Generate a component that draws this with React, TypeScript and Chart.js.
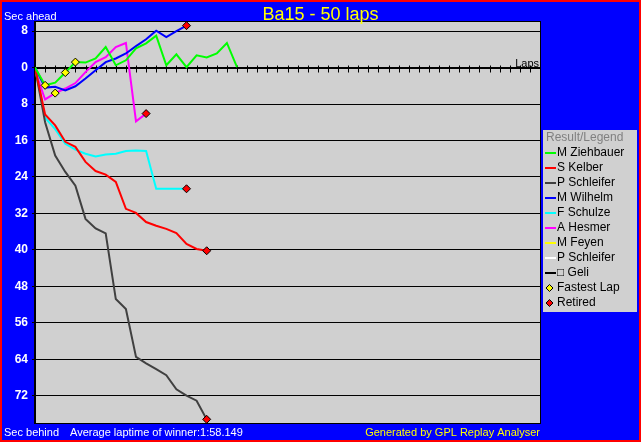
import { useEffect, useRef } from "react";
import { Chart, registerables } from "chart.js";

Chart.register(...registerables);

const FONT = "'Liberation Sans', Arial, sans-serif";

const TITLE = "Ba15 - 50 laps";
const LAP_COUNT = 50;
const Y_MIN = -78;
const Y_MAX = 10;
const yTickValues = [8, 0, -8, -16, -24, -32, -40, -48, -56, -64, -72];

const drivers = [
  "M Ziehbauer",
  "S Kelber",
  "P Schleifer",
  "M Wilhelm",
  "F Schulze",
  "A Hesmer",
  "M Feyen",
  "P Schleifer",
  "\u25A1 Geli",
];
const driverColors = [
  "#00ff00",
  "#ff0000",
  "#404040",
  "#0000ff",
  "#00ffff",
  "#ff00ff",
  "#ffff00",
  "#ffffff",
  "#000000",
];

// seconds ahead (+) / behind (-) per lap, index = lap
const ziehbauer = [0, -3.9, -3.3, -1.1, 1.2, 1.1, 2.0, 4.5, 0.5, 1.6, 4.2, 5.3, 7.0, 0.5, 2.9, 0.1, 2.7, 2.2, 3.1, 5.4, 0.1];
const kelber = [0, -10.3, -12.7, -16.3, -17.4, -20.7, -22.7, -23.5, -25.1, -31.0, -31.9, -33.9, -34.7, -35.4, -36.3, -38.7, -39.8, -40.2];
const schleifer = [0, -12.0, -19.3, -22.9, -25.9, -33.2, -35.3, -36.4, -50.8, -53.0, -63.5, -64.9, -66.2, -67.5, -70.6, -72.0, -73.1, -77.2];
const wilhelm = [0, -4.4, -4.2, -5.0, -4.1, -2.4, -0.6, 1.2, 2.0, 3.1, 4.7, 6.2, 8.1, 6.7, 8.0, 9.2];
const schulze = [0, -11.0, -13.5, -16.7, -18.0, -18.9, -19.5, -19.1, -18.9, -18.3, -18.2, -18.3, -26.6, -26.6, -26.6, -26.6];
const hesmer = [-0.6, -7.0, -5.6, -4.6, -3.4, -1.0, 1.2, 2.3, 4.5, 5.4, -11.8, -10.1];
const feyen: number[] = [];
const schleifer2: number[] = [];
const geli: number[] = [];

const series = [ziehbauer, kelber, schleifer, wilhelm, schulze, hesmer, feyen, schleifer2, geli];
const retired = [false, true, true, true, true, true, false, false, false];
// [driver index, lap]
const fastestLaps = [
  [0, 1],
  [0, 3],
  [0, 4],
  [5, 2],
];

const bottomLeft = "Sec behind";
const avgText = "Average laptime of winner:1:58.149";
const generatedText = "Generated by GPL Replay Analyser";

const decorPlugin = {
  id: "decor",
  beforeDraw(chart: any) {
    const { ctx, width, height, chartArea } = chart;
    ctx.save();
    ctx.fillStyle = "#ff0000";
    ctx.fillRect(0, 0, width, height);
    ctx.fillStyle = "#0000ff";
    ctx.fillRect(2, 2, width - 4, height - 4);
    ctx.fillStyle = "#d0d0d0";
    ctx.fillRect(chartArea.left, chartArea.top, chartArea.right - chartArea.left, chartArea.bottom - chartArea.top);
    ctx.restore();
  },
  beforeDatasetsDraw(chart: any) {
    const { ctx, chartArea, scales } = chart;
    const xs = scales.x;
    const ys = scales.y;
    ctx.save();
    // frame
    ctx.strokeStyle = "#000";
    ctx.lineWidth = 1;
    ctx.strokeRect(chartArea.left - 0.5, chartArea.top - 0.5, chartArea.right - chartArea.left + 1, chartArea.bottom - chartArea.top + 1);
    // lap axis at 0
    const y0 = Math.round(ys.getPixelForValue(0)) + 0.5;
    ctx.beginPath();
    ctx.moveTo(chartArea.left, y0);
    ctx.lineTo(chartArea.right, y0);
    for (let lap = 1; lap < LAP_COUNT; lap++) {
      const x = Math.round(xs.getPixelForValue(lap)) + 0.5;
      ctx.moveTo(x, y0 - 3);
      ctx.lineTo(x, y0 + 4);
    }
    ctx.stroke();
    // Laps label
    ctx.fillStyle = "#000";
    ctx.font = `11px ${FONT}`;
    ctx.textAlign = "right";
    ctx.textBaseline = "alphabetic";
    ctx.fillText("Laps", chartArea.right - 1, y0 - 2);
    ctx.restore();
  },
  afterDraw(chart: any) {
    const { ctx, width } = chart;
    ctx.save();
    ctx.textBaseline = "alphabetic";
    // title
    ctx.fillStyle = "#ffff00";
    ctx.font = `18px ${FONT}`;
    ctx.textAlign = "center";
    ctx.fillText(TITLE, width / 2, 20);
    // small texts
    ctx.font = `11px ${FONT}`;
    ctx.textAlign = "left";
    ctx.fillStyle = "#ffffff";
    ctx.fillText("Sec ahead", 4, 20);
    ctx.fillText(bottomLeft, 4, 436);
    ctx.fillText(avgText, 70, 436);
    ctx.fillStyle = "#ffff00";
    ctx.textAlign = "right";
    ctx.fillText(generatedText, 540, 436);

    // legend
    const lx = 543;
    const ly = 130;
    ctx.fillStyle = "#d0d0d0";
    ctx.fillRect(lx, ly, 94, 182);
    ctx.textAlign = "left";
    ctx.textBaseline = "middle";
    ctx.font = `12px ${FONT}`;
    ctx.fillStyle = "#808080";
    ctx.fillText("Result/Legend", 546, 137.5);
    let rowY = 153;
    drivers.forEach((name, i) => {
      ctx.strokeStyle = driverColors[i];
      ctx.lineWidth = 2;
      ctx.beginPath();
      ctx.moveTo(545, rowY);
      ctx.lineTo(556, rowY);
      ctx.stroke();
      ctx.fillStyle = "#000";
      ctx.fillText(name, 557, rowY);
      rowY += 15;
    });
    const marker = (cx: number, cy: number, fill: string) => {
      ctx.beginPath();
      ctx.moveTo(cx, cy - 3.5);
      ctx.lineTo(cx + 3.5, cy);
      ctx.lineTo(cx, cy + 3.5);
      ctx.lineTo(cx - 3.5, cy);
      ctx.closePath();
      ctx.fillStyle = fill;
      ctx.fill();
      ctx.strokeStyle = "#000";
      ctx.lineWidth = 1;
      ctx.stroke();
    };
    marker(549.5, rowY, "#ffff00");
    ctx.fillStyle = "#000";
    ctx.fillText("Fastest Lap", 557, rowY);
    rowY += 15;
    marker(549.5, rowY, "#ff0000");
    ctx.fillStyle = "#000";
    ctx.fillText("Retired", 557, rowY);
    ctx.restore();
  },
};

export default function App() {
  const ref = useRef<HTMLCanvasElement | null>(null);

  useEffect(() => {
    if (!ref.current) return;
    const lineSets = series.map((vals, i) => ({
      label: drivers[i],
      data: vals.map((y, x) => ({ x, y })),
      borderColor: driverColors[i],
      backgroundColor: driverColors[i],
      borderWidth: 2,
      pointRadius: 0,
      tension: 0,
      fill: false,
      order: 1,
    }));
    const fastestPts = fastestLaps.map(([d, lap]) => ({ x: lap, y: series[d][lap] }));
    const retiredPts = series
      .map((vals, i) => (retired[i] && vals.length ? { x: vals.length - 1, y: vals[vals.length - 1] } : null))
      .filter(Boolean);
    const markerSet = (label: string, pts: any[], color: string) => ({
      label,
      data: pts,
      showLine: false,
      pointStyle: "rectRot",
      pointRadius: 4,
      pointBackgroundColor: color,
      pointBorderColor: "#000",
      pointBorderWidth: 1,
      borderColor: "#000",
      backgroundColor: color,
      order: -1,
    });
    const chart = new Chart(ref.current, {
      type: "line",
      data: {
        datasets: [
          ...lineSets,
          markerSet("Fastest Lap", fastestPts, "#ffff00"),
          markerSet("Retired", retiredPts as any[], "#ff0000"),
        ] as any,
      },
      plugins: [decorPlugin],
      options: {
        responsive: false,
        animation: false,
        devicePixelRatio: 1,
        layout: { padding: { left: 0, right: 101, top: 22, bottom: 19 } },
        plugins: {
          legend: { display: false },
          tooltip: { enabled: false },
          title: { display: false },
        },
        scales: {
          x: { type: "linear", min: 0, max: LAP_COUNT, display: false },
          y: {
            type: "linear",
            min: Y_MIN,
            max: Y_MAX,
            afterBuildTicks: (scale: any) => {
              scale.ticks = yTickValues.map((v) => ({ value: v }));
            },
            afterFit: (scale: any) => {
              scale.width = 35;
            },
            grid: {
              color: "#000000",
              lineWidth: 1,
              drawTicks: true,
              tickLength: 3,
              tickColor: "#000000",
            },
            border: { display: true, color: "#000000" },
            ticks: {
              color: "#ffffff",
              padding: 4,
              font: { family: FONT, size: 12, weight: "bold" },
              callback: (v: any) => String(Math.abs(Number(v))),
            },
          },
        },
      } as any,
    });
    return () => chart.destroy();
  }, []);

  return (
    <div style={{ position: "fixed", left: 0, top: 0, width: 641, height: 442 }}>
      <canvas ref={ref} width={641} height={442} style={{ display: "block" }} />
    </div>
  );
}
